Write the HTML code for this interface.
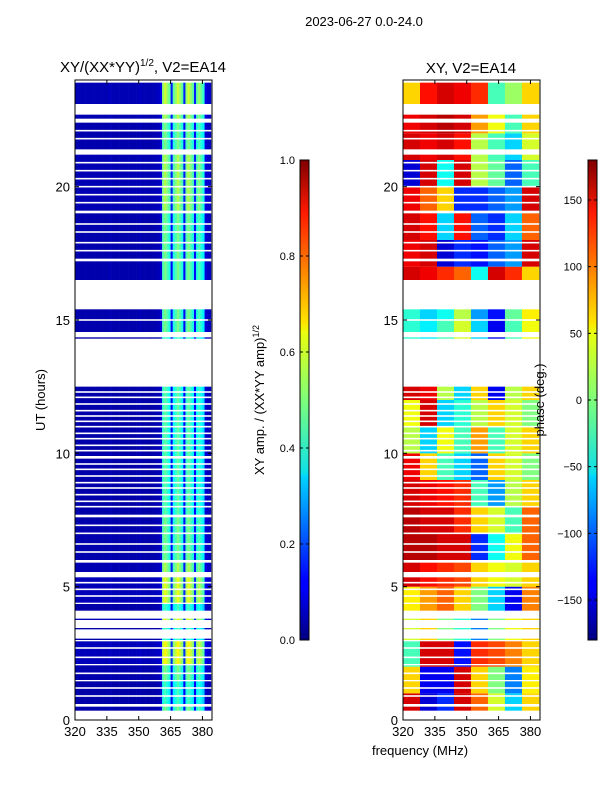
<!DOCTYPE html>
<html><head><meta charset="utf-8">
<style>
html,body{margin:0;padding:0;background:#fff;}
svg{display:block;font-family:"Liberation Sans",sans-serif;}
</style></head>
<body>
<svg id="fig" width="600" height="800" viewBox="0 0 600 800" xmlns="http://www.w3.org/2000/svg">
<defs>
<linearGradient id="jet" x1="0" y1="1" x2="0" y2="0">
<stop offset="0" stop-color="#00007f"/><stop offset="0.11" stop-color="#0000ff"/>
<stop offset="0.125" stop-color="#0000ff"/><stop offset="0.34" stop-color="#00d4ff"/>
<stop offset="0.35" stop-color="#0fe0e7"/><stop offset="0.5" stop-color="#7dff7a"/>
<stop offset="0.64" stop-color="#e9ff0e"/><stop offset="0.66" stop-color="#ffe600"/>
<stop offset="0.89" stop-color="#ff1a00"/><stop offset="1" stop-color="#7f0000"/>
</linearGradient>
<clipPath id="clipL"><rect x="75" y="80" width="137" height="640"/></clipPath>
<clipPath id="clipR"><rect x="403" y="80" width="137" height="640"/></clipPath>
</defs>
<text x="364" y="26" font-size="13" text-anchor="middle">2023-06-27 0.0-24.0</text>
<text x="143" y="72" font-size="15" text-anchor="middle">XY/(XX*YY)<tspan font-size="10" dy="-6">1/2</tspan><tspan dy="6">, V2=EA14</tspan></text>
<text x="471" y="73" font-size="15" text-anchor="middle">XY, V2=EA14</text>
<g id="heatL" clip-path="url(#clipL)"></g>
<g id="heatR" clip-path="url(#clipR)"></g>
<rect x="75" y="80" width="137" height="640" fill="none" stroke="#000" stroke-width="1"/>
<rect x="403" y="80" width="137" height="640" fill="none" stroke="#000" stroke-width="1"/>
<g id="axes" font-size="13"></g>
<text transform="translate(45,400) rotate(-90)" font-size="13" text-anchor="middle">UT (hours)</text>
<text x="420" y="755" font-size="13" text-anchor="middle">frequency (MHz)</text>
<rect x="300" y="160" width="9" height="480" fill="url(#jet)" stroke="#000" stroke-width="1"/>
<rect x="588" y="160" width="9" height="480" fill="url(#jet)" stroke="#000" stroke-width="1"/>
<text transform="translate(264,400) rotate(-90)" font-size="13" text-anchor="middle">XY amp. / (XX*YY amp)<tspan font-size="9" dy="-5">1/2</tspan></text>
<text transform="translate(544,400) rotate(-90)" font-size="13" text-anchor="middle">phase (deg.)</text>
<g id="cbticks" font-size="11"></g>
</svg>
<script>
// ---- data ----
var segStarts = [0.35,0.6,1.5,2.1,3.0,3.4,3.75,4.1,4.4,5.55,6.0,7.7,9.9,14.3,14.55,16.5,17.3,19.1,21.4,22.55,23.1];
var segEnds   = [0.5,1.45,2.05,2.95,3.05,3.45,3.8,4.35,5.35,5.9,7.6,9.8,12.5,14.35,15.4,17.2,19.0,21.2,22.4,22.7,23.9];
var segScale  = [0.9,0.8,0.9,1.15,0.8,0.8,1.1,0.8,1.1,1.0,0.9,0.85,0.85,0.8,0.9,0.9,0.9,1.0,0.9,1.0,1.05];
var thinGaps = [0.9,1.2,1.75,2.35,2.7,4.65,4.9,5.15,6.3,6.6,7.0,7.3,8.0,8.2,8.45,8.7,8.9,9.15,9.4,9.6,10.1,10.3,10.55,10.75,11.0,11.2,11.4,11.6,11.85,12.1,12.3,15.0,17.6,17.9,18.3,18.6,19.4,19.7,20.0,20.3,20.6,20.9,21.8,22.1];
var freqStart = 320;
var ampVals  = [0.05,0.05,0.05,0.05,0.05,0.05,0.05,0.05,0.05,0.05,
                0.05,0.05,0.05,0.05,0.05,0.05,0.06,0.05,0.05,0.05,
                0.05,0.05,0.05,0.05,0.05,0.05,0.05,0.05,0.05,0.05,
                0.06,0.05,0.05,0.05,0.05,0.05,0.05,0.05,0.06,0.06,
                0.1,0.5,0.55,0.5,0.45,0.15,0.45,0.5,0.55,0.5,
                0.45,0.15,0.5,0.55,0.5,0.45,0.15,0.45,0.5,0.45,
                0.4,0.1,0.07,0.07];
var phaseFreqStarts = [320,328,336,344,352,360,368,376];
var phaseRows = [
[150,-150,-120,150,100,30,-60,60],
[60,-140,-140,150,60,0,-90,50],
[-20,150,150,-130,120,110,90,60],
[30,60,0,-30,-90,0,40,60],
[50,80,100,60,0,-60,-140,90],
[150,130,120,110,60,40,30,60],
[160,160,150,150,-120,-40,40,100],
[160,150,150,120,60,30,-20,100],
[150,140,130,120,-20,-80,20,60],
[140,60,-20,-60,-100,60,30,0],
[20,-60,40,-20,80,-20,30,60],
[40,150,-60,-30,20,60,30,0],
[150,140,20,-60,60,-140,20,60],
[0,0,0,0,0,0,0,0],
[-30,-50,-20,30,-60,-140,-20,40],
[-30,-60,-40,20,-80,-130,-10,50],
[150,140,120,100,-40,150,120,60],
[140,150,-150,-120,-130,-100,-80,150],
[150,130,-60,130,-100,-120,-60,100],
[140,100,60,-120,-120,-100,-80,150],
[-150,150,-40,150,20,-10,-100,-20],
[150,140,150,130,20,-20,-60,30],
[140,150,160,150,80,40,-20,60],
[60,130,150,140,120,-20,10,60]];
var hourTicks = [0,5,10,15,20];
var freqTicks = [320,335,350,365,380];
var ampTicks = [0.0,0.2,0.4,0.6,0.8,1.0];
var phaseTicks = [150,100,50,0,-50,-100,-150];

// ---- scales ----
function yH(h){return 720-h*640/24;}
function xL(f){return 75+(f-320)*137/64.5;}
function xR(f){return 403+(f-320)*137/64.5;}
function jet(v){
  v=Math.max(0,Math.min(1,v));
  function c(x){return Math.round(255*Math.max(0,Math.min(1,x)));}
  var r=c(1.5-Math.abs(4*v-3)), g=c(1.5-Math.abs(4*v-2)), b=c(1.5-Math.abs(4*v-1));
  return 'rgb('+r+','+g+','+b+')';
}
var NS='http://www.w3.org/2000/svg';
function mk(tag,attrs,parent){var e=document.createElementNS(NS,tag);for(var k in attrs)e.setAttribute(k,attrs[k]);parent.appendChild(e);return e;}

var gL=document.getElementById('heatL'), gR=document.getElementById('heatR');
for(var s=0;s<segStarts.length;s++){
  var y0=yH(segEnds[s]), y1=yH(segStarts[s]);
  for(var i=0;i<ampVals.length;i++){
    var f=freqStart+i;
    var r=mk('rect',{x:xL(f),y:y0,width:xL(f+1)-xL(f)+0.3,height:y1-y0,fill:jet(ampVals[i]*segScale[s])},gL);
    
    
  }
  for(var h=Math.floor(segStarts[s]);h<segEnds[s];h++){
    var a=Math.max(h,segStarts[s]), b=Math.min(h+1,segEnds[s]);
    if(b<=a) continue;
    for(var j=0;j<phaseFreqStarts.length;j++){
      var p=phaseRows[h][j];
      var r2=mk('rect',{x:xR(phaseFreqStarts[j]),y:yH(b),width:xR(phaseFreqStarts[j]+8)-xR(phaseFreqStarts[j])+0.3,height:yH(a)-yH(b),fill:jet((p+180)/360)},gR);
      
      
    }
  }
}
for(var k=0;k<thinGaps.length;k++){
  var gy=yH(thinGaps[k]);
  var w1=mk('rect',{x:75,y:gy-0.8,width:137,height:1.6,fill:'#fff'},gL);
  
  
  var w2=mk('rect',{x:403,y:gy-0.8,width:137,height:1.6,fill:'#fff'},gR);
  
  
}
var ax=document.getElementById('axes');
[75,403].forEach(function(x0,pi){
  hourTicks.forEach(function(h){
    var y=yH(h);
    mk('line',{x1:x0,x2:x0+4,y1:y,y2:y,stroke:'#000'},ax);
    mk('line',{x1:x0+137,x2:x0+133,y1:y,y2:y,stroke:'#000'},ax);
    var t=mk('text',{x:x0-5,y:y+5,'text-anchor':'end'},ax);t.textContent=h;
    
    
  });
  freqTicks.forEach(function(f){
    var x=(pi?xR:xL)(f);
    mk('line',{x1:x,x2:x,y1:720,y2:716,stroke:'#000'},ax);
    mk('line',{x1:x,x2:x,y1:80,y2:84,stroke:'#000'},ax);
    var t=mk('text',{x:x,y:736,'text-anchor':'middle'},ax);t.textContent=f;
    
    
  });
});
var cb=document.getElementById('cbticks');
ampTicks.forEach(function(v){
  var y=640-v*480;
  mk('line',{x1:300,x2:303,y1:y,y2:y,stroke:'#000'},cb);
  mk('line',{x1:309,x2:306,y1:y,y2:y,stroke:'#000'},cb);
  var t=mk('text',{x:295,y:y+4,'text-anchor':'end'},cb);t.textContent=v.toFixed(1);
  
  
});
phaseTicks.forEach(function(v){
  var y=400-v*240/180;
  mk('line',{x1:588,x2:591,y1:y,y2:y,stroke:'#000'},cb);
  mk('line',{x1:597,x2:594,y1:y,y2:y,stroke:'#000'},cb);
  var t=mk('text',{x:582,y:y+4,'text-anchor':'end'},cb);t.textContent=(v<0?'\u2212'+(-v):v);
  
  
});
</script>
</body></html>
